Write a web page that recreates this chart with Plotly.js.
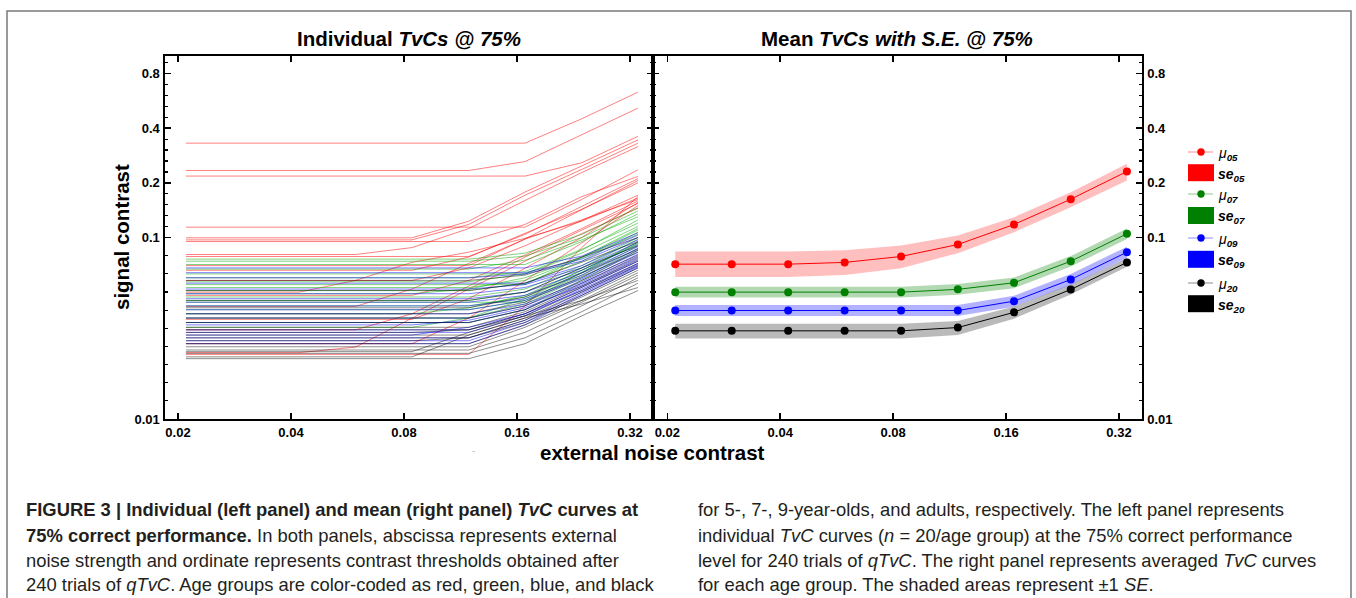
<!DOCTYPE html>
<html>
<head>
<meta charset="utf-8">
<script src="https://cdn.plot.ly/plotly-3.0.1.min.js"></script>
<style>
html,body{margin:0;padding:0;background:#fff;}
#chart{width:1356px;height:598px;}
</style>
</head>
<body>
<div id="chart"></div>
<script>
// ---------------- DATA ----------------
const xNoise = [0.021, 0.0297, 0.042, 0.0594, 0.084, 0.119, 0.168, 0.238, 0.336];
const xTickVals = [0.02, 0.04, 0.08, 0.16, 0.32];
const xTickText = ['0.02', '0.04', '0.08', '0.16', '0.32'];
const yTickVals = [0.01, 0.1, 0.2, 0.4, 0.8];
const yTickText = ['0.01', '0.1', '0.2', '0.4', '0.8'];

const indivRed = [
  [0.331,0.331,0.331,0.331,0.331,0.331,0.331,0.451,0.632],
  [0.234,0.234,0.234,0.234,0.234,0.234,0.262,0.370,0.516],
  [0.218,0.218,0.218,0.218,0.218,0.218,0.218,0.258,0.361],
  [0.114,0.114,0.114,0.114,0.114,0.114,0.114,0.162,0.236],
  [0.0996,0.0996,0.0996,0.0996,0.0996,0.123,0.178,0.248,0.345],
  [0.097,0.097,0.097,0.097,0.097,0.118,0.171,0.237,0.331],
  [0.095,0.095,0.095,0.095,0.095,0.095,0.118,0.168,0.217],
  [0.0806,0.0806,0.0806,0.0806,0.088,0.112,0.160,0.228,0.317],
  [0.0786,0.0786,0.0786,0.0786,0.0786,0.0786,0.104,0.148,0.211],
  [0.070,0.070,0.070,0.070,0.070,0.070,0.098,0.142,0.206],
  [0.066,0.066,0.066,0.066,0.066,0.078,0.105,0.143,0.200],
  [0.058,0.058,0.058,0.058,0.058,0.068,0.090,0.124,0.171],
  [0.050,0.050,0.050,0.058,0.073,0.083,0.099,0.123,0.165],
  [0.048,0.048,0.048,0.048,0.048,0.058,0.080,0.112,0.159],
  [0.0417,0.0417,0.0417,0.0417,0.052,0.072,0.098,0.125,0.162],
  [0.0354,0.0354,0.0354,0.0354,0.0354,0.046,0.068,0.100,0.156],
  [0.031,0.031,0.031,0.031,0.038,0.054,0.078,0.110,0.154],
  [0.026,0.026,0.026,0.026,0.026,0.036,0.058,0.094,0.150],
  [0.0232,0.0232,0.0232,0.0249,0.036,0.052,0.074,0.105,0.145],
  [0.0227,0.0227,0.0227,0.0227,0.0227,0.0227,0.042,0.088,0.168]
];
const indivGreen = [
  [0.076,0.076,0.076,0.076,0.076,0.076,0.082,0.104,0.146],
  [0.074,0.074,0.074,0.074,0.074,0.074,0.079,0.100,0.140],
  [0.071,0.071,0.071,0.071,0.071,0.071,0.071,0.095,0.135],
  [0.067,0.067,0.067,0.067,0.067,0.067,0.075,0.097,0.130],
  [0.063,0.063,0.063,0.063,0.063,0.063,0.063,0.085,0.125],
  [0.060,0.060,0.060,0.060,0.060,0.060,0.065,0.086,0.120],
  [0.057,0.057,0.057,0.057,0.057,0.057,0.063,0.082,0.115],
  [0.055,0.055,0.055,0.055,0.055,0.055,0.055,0.078,0.112],
  [0.053,0.053,0.053,0.053,0.053,0.053,0.058,0.077,0.110],
  [0.051,0.051,0.051,0.051,0.051,0.051,0.056,0.074,0.107],
  [0.049,0.049,0.049,0.049,0.049,0.052,0.060,0.078,0.104],
  [0.047,0.047,0.047,0.047,0.047,0.047,0.052,0.070,0.100],
  [0.045,0.045,0.045,0.045,0.045,0.045,0.050,0.068,0.098],
  [0.044,0.044,0.044,0.044,0.044,0.044,0.044,0.064,0.095],
  [0.042,0.042,0.042,0.042,0.042,0.042,0.047,0.066,0.094],
  [0.040,0.040,0.040,0.040,0.040,0.040,0.045,0.062,0.090],
  [0.038,0.038,0.038,0.038,0.038,0.041,0.048,0.066,0.092],
  [0.036,0.036,0.036,0.036,0.036,0.036,0.043,0.060,0.087],
  [0.034,0.034,0.034,0.034,0.034,0.034,0.040,0.058,0.085],
  [0.032,0.032,0.032,0.032,0.032,0.036,0.046,0.064,0.093]
];
const indivBlue = [
  [0.068,0.068,0.068,0.068,0.068,0.068,0.068,0.079,0.106],
  [0.064,0.064,0.064,0.064,0.064,0.064,0.064,0.076,0.103],
  [0.060,0.060,0.060,0.060,0.060,0.060,0.063,0.074,0.100],
  [0.056,0.056,0.056,0.056,0.056,0.056,0.056,0.070,0.097],
  [0.052,0.052,0.052,0.052,0.052,0.052,0.055,0.068,0.094],
  [0.049,0.049,0.049,0.049,0.049,0.049,0.053,0.066,0.091],
  [0.046,0.046,0.046,0.046,0.046,0.046,0.050,0.064,0.089],
  [0.044,0.044,0.044,0.044,0.044,0.044,0.048,0.062,0.087],
  [0.042,0.042,0.042,0.042,0.042,0.042,0.046,0.060,0.085],
  [0.040,0.040,0.040,0.040,0.040,0.040,0.045,0.059,0.083],
  [0.038,0.038,0.038,0.038,0.038,0.038,0.043,0.057,0.081],
  [0.036,0.036,0.036,0.036,0.036,0.036,0.042,0.056,0.079],
  [0.034,0.034,0.034,0.034,0.034,0.034,0.040,0.055,0.077],
  [0.033,0.033,0.033,0.033,0.033,0.035,0.041,0.054,0.075],
  [0.031,0.031,0.031,0.031,0.031,0.031,0.038,0.053,0.074],
  [0.030,0.030,0.030,0.030,0.030,0.030,0.037,0.052,0.072],
  [0.029,0.029,0.029,0.029,0.029,0.032,0.038,0.051,0.071],
  [0.028,0.028,0.028,0.028,0.028,0.028,0.035,0.050,0.070],
  [0.027,0.027,0.027,0.027,0.027,0.027,0.034,0.049,0.069],
  [0.026,0.026,0.026,0.026,0.026,0.026,0.033,0.048,0.068]
];
const indivBlack = [
  [0.058,0.058,0.058,0.058,0.058,0.058,0.062,0.078,0.100],
  [0.051,0.051,0.051,0.051,0.051,0.051,0.056,0.073,0.095],
  [0.045,0.045,0.045,0.045,0.045,0.045,0.050,0.068,0.090],
  [0.041,0.041,0.041,0.041,0.041,0.041,0.047,0.064,0.086],
  [0.038,0.038,0.038,0.038,0.038,0.038,0.044,0.061,0.083],
  [0.036,0.036,0.036,0.036,0.036,0.036,0.042,0.058,0.080],
  [0.034,0.034,0.034,0.034,0.034,0.034,0.040,0.056,0.078],
  [0.032,0.032,0.032,0.032,0.032,0.032,0.039,0.054,0.076],
  [0.031,0.031,0.031,0.031,0.031,0.031,0.038,0.053,0.074],
  [0.030,0.030,0.030,0.030,0.030,0.031,0.037,0.051,0.072],
  [0.029,0.029,0.029,0.029,0.029,0.029,0.036,0.050,0.070],
  [0.028,0.028,0.028,0.028,0.028,0.028,0.035,0.048,0.068],
  [0.027,0.027,0.027,0.027,0.027,0.028,0.034,0.047,0.066],
  [0.026,0.026,0.026,0.026,0.026,0.026,0.033,0.045,0.064],
  [0.025,0.025,0.025,0.025,0.025,0.025,0.032,0.044,0.062],
  [0.024,0.024,0.024,0.024,0.024,0.024,0.030,0.042,0.060],
  [0.0235,0.0235,0.0235,0.0235,0.0235,0.030,0.037,0.045,0.058],
  [0.023,0.023,0.023,0.023,0.023,0.023,0.028,0.039,0.056],
  [0.022,0.022,0.022,0.022,0.022,0.029,0.036,0.043,0.053],
  [0.0215,0.0215,0.0215,0.0215,0.0215,0.0215,0.026,0.037,0.051]
];

const meanRed   = [0.0713,0.0713,0.0713,0.0729,0.0786,0.0915,0.1179,0.1626,0.231];
const seRedHi   = [0.0837,0.0837,0.0837,0.0850,0.0904,0.1025,0.1294,0.1775,0.255];
const seRedLo   = [0.0605,0.0605,0.0605,0.0622,0.0677,0.0820,0.1070,0.1470,0.206];
const meanGreen = [0.0500,0.0500,0.0500,0.0500,0.0500,0.0518,0.0563,0.0740,0.1048];
const seGreenHi = [0.0535,0.0535,0.0535,0.0535,0.0535,0.0554,0.0602,0.0790,0.1120];
const seGreenLo = [0.0467,0.0467,0.0467,0.0467,0.0467,0.0484,0.0526,0.0692,0.0980];
const meanBlue  = [0.0396,0.0396,0.0396,0.0396,0.0396,0.0396,0.0446,0.0587,0.0830];
const seBlueHi  = [0.0425,0.0425,0.0425,0.0425,0.0425,0.0425,0.0478,0.0629,0.0890];
const seBlueLo  = [0.0369,0.0369,0.0369,0.0369,0.0369,0.0369,0.0416,0.0548,0.0774];
const meanBlack = [0.0306,0.0306,0.0306,0.0306,0.0306,0.0319,0.0387,0.0517,0.0729];
const seBlackHi = [0.0335,0.0335,0.0335,0.0335,0.0335,0.0347,0.0417,0.0550,0.0770];
const seBlackLo = [0.0278,0.0278,0.0278,0.0278,0.0278,0.0290,0.0357,0.0485,0.0690];

const legendLabels = ['05', '07', '09', '20'];

// ---------------- STYLE / LAYOUT ----------------
const W = 1356, H = 598;
const PX = x => x / W;
const PY = y => 1 - y / H;
const FONT = 'Liberation Sans, Arial, Helvetica, sans-serif';
const CAPFONT = 'Liberation Sans, Arial, sans-serif';

const groups = [
  {rows: indivRed,   line: 'rgba(255,0,0,0.5)',   solid: '#ff0000', band: 'rgba(255,0,0,0.25)',  legLine: 'rgba(255,0,0,0.45)',
   mean: meanRed, hi: seRedHi, lo: seRedLo},
  {rows: indivGreen, line: 'rgba(0,170,0,0.5)',   solid: '#008000', band: 'rgba(0,128,0,0.3)',   legLine: 'rgba(0,128,0,0.45)',
   mean: meanGreen, hi: seGreenHi, lo: seGreenLo},
  {rows: indivBlue,  line: 'rgba(0,0,255,0.5)',   solid: '#0000ff', band: 'rgba(0,0,255,0.3)',   legLine: 'rgba(0,0,255,0.45)',
   mean: meanBlue, hi: seBlueHi, lo: seBlueLo},
  {rows: indivBlack, line: 'rgba(0,0,0,0.45)',    solid: '#000000', band: 'rgba(0,0,0,0.27)',    legLine: 'rgba(0,0,0,0.45)',
   mean: meanBlack, hi: seBlackHi, lo: seBlackLo}
];

const traces = [];
groups.forEach(g => {
  g.rows.forEach(r => {
    traces.push({x: xNoise, y: r, xaxis: 'x', yaxis: 'y', type: 'scatter', mode: 'lines',
      line: {color: g.line, width: 1}, hoverinfo: 'skip', showlegend: false});
  });
});
groups.forEach(g => {
  traces.push({x: xNoise.concat(xNoise.slice().reverse()), y: g.hi.concat(g.lo.slice().reverse()),
    xaxis: 'x2', yaxis: 'y2', type: 'scatter', mode: 'lines', fill: 'toself', fillcolor: g.band,
    line: {width: 0, color: 'rgba(0,0,0,0)'}, hoverinfo: 'skip', showlegend: false});
});
groups.forEach(g => {
  traces.push({x: xNoise, y: g.mean, xaxis: 'x2', yaxis: 'y2', type: 'scatter', mode: 'lines+markers',
    line: {color: g.solid, width: 1}, marker: {color: g.solid, size: 8}, showlegend: false});
});

// minor ticks (uniform in log): 5 per octave above 0.1, 10 per decade below 0.1
const minorY = [];
for (let j = 1; j < 10; j++) minorY.push(Math.pow(10, -2 + j / 10));
for (let k = 1; k < 17; k++) if (k % 5 !== 0) minorY.push(0.1 * Math.pow(2, k / 5));

const tickFont = {family: FONT, size: 13, color: '#000', weight: 'bold'};
function xAxis(domain, range, anchor) {
  return {domain, range, type: 'log', anchor, tickmode: 'array', tickvals: xTickVals, ticktext: xTickText,
    ticks: 'inside', ticklen: 6, tickwidth: 1.5, tickcolor: '#000', showline: true, linewidth: 2, linecolor: '#000',
    mirror: 'ticks', showgrid: false, zeroline: false, tickfont: tickFont, fixedrange: true};
}
function yAxis(side, anchor) {
  return {domain: [PY(419), PY(56)], range: [-2, 0], type: 'log', anchor, side, tickmode: 'array',
    tickvals: yTickVals, ticktext: yTickText, ticks: 'inside', ticklen: 6, tickwidth: 1.5, tickcolor: '#000',
    minor: {tickmode: 'array', tickvals: minorY, ticks: 'inside', ticklen: 3, tickwidth: 1.2, tickcolor: '#000'},
    showline: true, linewidth: 1.6, linecolor: '#000', mirror: 'ticks', showgrid: false, zeroline: false,
    tickfont: tickFont, fixedrange: true, ticklabelstandoff: 1};
}

const annotations = [];
const shapes = [];
function ann(text, x, y, opts) {
  annotations.push(Object.assign({text, x: PX(x), y: PY(y), xref: 'paper', yref: 'paper', showarrow: false,
    xanchor: 'center', yanchor: 'middle', font: {family: FONT, size: 20.5, color: '#000'}}, opts || {}));
}
// titles
ann('<b>Individual <i>TvCs @ 75%</i></b>', 409, 39);
ann('<b>Mean <i>TvCs with S.E. @ 75%</i></b>', 897, 39);
ann('<b>signal contrast</b>', 121, 237, {textangle: -90});
ann('<b>external noise contrast</b>', 652, 452);
ann('-', 473, 451, {font: {family: FONT, size: 9, color: '#aaa'}});

// legend drawn by hand
const legY = [[152, 172.7], [194, 215.5], [238, 259.3], [283, 303.7]];
const legFont = {family: FONT, size: 14, color: '#000'};
groups.forEach((g, i) => {
  const [ym, ys] = legY[i];
  shapes.push({type: 'line', xref: 'paper', yref: 'paper', x0: PX(1188), x1: PX(1213), y0: PY(ym), y1: PY(ym),
    line: {color: g.legLine, width: 1}});
  shapes.push({type: 'circle', xref: 'paper', yref: 'paper', x0: PX(1197.3), x1: PX(1204.7), y0: PY(ym + 3.7), y1: PY(ym - 3.7),
    fillcolor: g.solid, line: {width: 0}});
  shapes.push({type: 'rect', xref: 'paper', yref: 'paper', x0: PX(1188), x1: PX(1214), y0: PY(ys + 8.5), y1: PY(ys - 8.5),
    fillcolor: g.solid, line: {width: 0}});
  ann('<i>μ<sub><b>' + legendLabels[i] + '</b></sub></i>', 1216, ym + 2, {xanchor: 'left', font: legFont});
  ann('<b><i>se<sub>' + legendLabels[i] + '</sub></i></b>', 1216, ys + 2, {xanchor: 'left', font: legFont});
});

// frame
shapes.push({type: 'rect', xref: 'paper', yref: 'paper', x0: PX(7), x1: PX(1351), y0: PY(610), y1: PY(11),
  line: {color: '#7a7a7a', width: 1.5}, fillcolor: 'rgba(0,0,0,0)'});

// caption
const capFont = {family: CAPFONT, size: 18.4, color: '#231f20'};
const capL = [
  '<b>FIGURE 3 | Individual (left panel) and mean (right panel) <i>TvC</i> curves at</b>',
  '<b>75% correct performance.</b> In both panels, abscissa represents external',
  'noise strength and ordinate represents contrast thresholds obtained after',
  '240 trials of <i>qTvC</i>. Age groups are color-coded as red, green, blue, and black'
];
const capR = [
  'for 5-, 7-, 9-year-olds, and adults, respectively. The left panel represents',
  'individual <i>TvC</i> curves (<i>n</i> = 20/age group) at the 75% correct performance',
  'level for 240 trials of <i>qTvC</i>. The right panel represents averaged <i>TvC</i> curves',
  'for each age group. The shaded areas represent ±1 <i>SE</i>.'
];
const capY = [509, 535, 560, 584];
capL.forEach((t, i) => ann(t, 24, capY[i], {xanchor: 'left', font: capFont}));
capR.forEach((t, i) => ann(t, 696, capY[i], {xanchor: 'left', font: capFont}));

const layout = {
  width: W, height: H, autosize: false, margin: {l: 0, r: 0, t: 0, b: 0},
  paper_bgcolor: '#fff', plot_bgcolor: 'rgba(0,0,0,0)', showlegend: false,
  font: {family: FONT},
  xaxis: xAxis([PX(165), PX(653)], [-1.7336, -0.4336], 'y'),
  yaxis: yAxis('left', 'x'),
  xaxis2: xAxis([PX(653), PX(1142)], [-1.7371, -0.4335], 'y2'),
  yaxis2: yAxis('right', 'x2'),
  annotations, shapes
};

Plotly.newPlot('chart', traces, layout, {displayModeBar: false, staticPlot: true});
</script>
</body>
</html>
